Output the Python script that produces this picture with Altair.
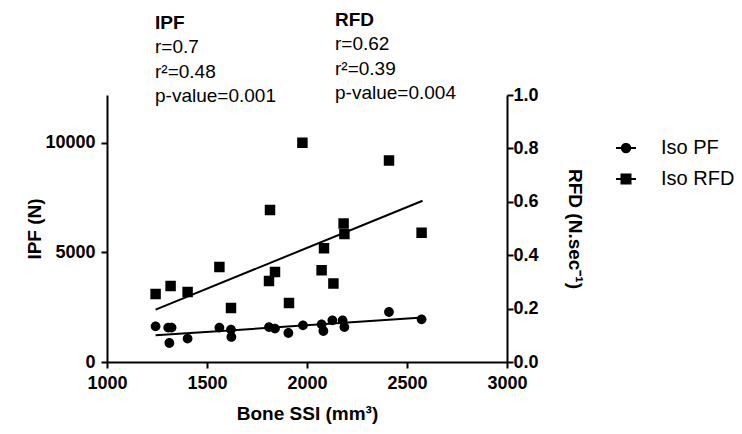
import altair as alt
import pandas as pd

# ---- data ----
ipf_ssi = [1243, 1306, 1323, 1312, 1403, 1562, 1620, 1622, 1810, 1840, 1907, 1980, 2073, 2082, 2127, 2178, 2187, 2410, 2573]
ipf_val = [1627, 1568, 1568, 866, 1067, 1568, 1477, 1140, 1595, 1522, 1322, 1673, 1718, 1413, 1900, 1900, 1595, 2279, 1946]

rfd_ssi = [1243, 1318, 1403, 1562, 1620, 1815, 1810, 1840, 1910, 1977, 2073, 2085, 2132, 2183, 2187, 2410, 2573]
rfd_val = [0.255, 0.285, 0.262, 0.356, 0.202, 0.569, 0.303, 0.337, 0.221, 0.821, 0.344, 0.426, 0.294, 0.519, 0.479, 0.755, 0.484]

ipf_fit_ssi = [1243, 2578]
ipf_fit_val = [1217, 2024]
rfd_fit_ssi = [1243, 2578]
rfd_fit_val = [0.196, 0.604]

series = ["Iso PF", "Iso RFD"]
x_ticks = [1000, 1500, 2000, 2500, 3000]
ipf_ticks = [0, 5000, 10000]
rfd_ticks = [0.0, 0.2, 0.4, 0.6, 0.8, 1.0]

ipf_title = "IPF"
ipf_stats = ["r=0.7", "r\u00b2=0.48", "p-value=0.001"]
rfd_title = "RFD"
rfd_stats = ["r=0.62", "r\u00b2=0.39", "p-value=0.004"]

FONT = "Liberation Sans"

# custom symbols: a horizontal line (only visible when stroked, i.e. in the legend) + marker
circle_path = "M-1,0H1M0.42,0A0.42,0.42,0,1,1,-0.42,0A0.42,0.42,0,1,1,0.42,0Z"
square_path = "M-1,0H1M-0.45,-0.45H0.45V0.45H-0.45Z"

ipf_df = pd.DataFrame({"ssi": ipf_ssi, "val": ipf_val, "series": series[0]})
rfd_df = pd.DataFrame({"ssi": rfd_ssi, "val": rfd_val, "series": series[1]})
ipf_fit = pd.DataFrame({"ssi": ipf_fit_ssi, "val": ipf_fit_val})
rfd_fit = pd.DataFrame({"ssi": rfd_fit_ssi, "val": rfd_fit_val})
legend_df = pd.DataFrame({"series": series})

shape_scale = alt.Scale(domain=series, range=[circle_path, square_path])

x_enc = alt.X("ssi:Q", scale=alt.Scale(domain=[1000, 3000], nice=False, zero=False),
              axis=alt.Axis(values=x_ticks, format="d", title="Bone SSI (mm\u00b3)",
                            labelPadding=6, titlePadding=12))

ipf_y_scale = alt.Scale(domain=[0, 12170], nice=False)
ipf_axis = alt.Axis(orient="left", values=ipf_ticks, format="d", title="IPF (N)",
                    labelPadding=6, titlePadding=0)
rfd_y_scale = alt.Scale(domain=[0, 1], nice=False)
rfd_axis = alt.Axis(orient="right", values=rfd_ticks, format=".1f",
                    title="RFD (N.sec\u207b\u00b9)", labelPadding=0, titlePadding=26)

ipf_pts = alt.Chart(ipf_df).mark_point(filled=True, color="black", opacity=1, size=540).encode(
    x=x_enc, y=alt.Y("val:Q", scale=ipf_y_scale, axis=ipf_axis),
    shape=alt.Shape("series:N", scale=shape_scale, legend=None))
ipf_line = alt.Chart(ipf_fit).mark_line(color="black", strokeWidth=2).encode(
    x="ssi:Q", y=alt.Y("val:Q", scale=ipf_y_scale, axis=ipf_axis))

rfd_pts = alt.Chart(rfd_df).mark_point(filled=True, color="black", opacity=1, size=540).encode(
    x=x_enc, y=alt.Y("val:Q", scale=rfd_y_scale, axis=rfd_axis),
    shape=alt.Shape("series:N", scale=shape_scale, legend=None))
rfd_line = alt.Chart(rfd_fit).mark_line(color="black", strokeWidth=2).encode(
    x="ssi:Q", y=alt.Y("val:Q", scale=rfd_y_scale, axis=rfd_axis))

# legend-only layer (no visible marks): stroked symbols draw the line part of the key
legend_layer = alt.Chart(legend_df).mark_point(
    filled=False, color="black", fill="black", stroke="black", strokeWidth=2, opacity=1, size=400
).encode(
    shape=alt.Shape("series:N", scale=shape_scale,
                    legend=alt.Legend(title=None, orient="none", legendX=508, legendY=42,
                                      symbolSize=400, symbolStrokeWidth=2,
                                      labelFont=FONT, labelFontSize=20, labelColor="black",
                                      labelOffset=24, rowPadding=10, padding=0))
).transform_filter("false")

ipf_layer = alt.layer(ipf_line, ipf_pts)
rfd_layer = alt.layer(rfd_line, rfd_pts)

one = pd.DataFrame({"k": [0]})


def text_block(title, lines, x, y0, step):
    parts = [alt.Chart(one).mark_text(align="left", baseline="alphabetic", font=FONT, fontSize=19,
                                      fontWeight="bold", color="black").encode(
        x=alt.value(x), y=alt.value(y0), text=alt.value(title))]
    for i, ln in enumerate(lines):
        parts.append(alt.Chart(one).mark_text(align="left", baseline="alphabetic", font=FONT,
                                              fontSize=19, color="black").encode(
            x=alt.value(x), y=alt.value(y0 + step * (i + 1)), text=alt.value(ln)))
    return parts


texts = text_block(ipf_title, ipf_stats, 48, -66, 24.3) + text_block(rfd_title, rfd_stats, 228, -69, 24.3)

chart = alt.layer(legend_layer, ipf_layer, rfd_layer, *texts).resolve_scale(y="independent").properties(
    width=400, height=267,
    background="white",
    autosize=alt.AutoSizeParams(type="none"),
    padding={"left": 99, "top": 87, "right": 227, "bottom": 64},
).configure_view(stroke=None).configure_axis(
    grid=False, domainColor="black", domainWidth=2, tickColor="black", tickWidth=2, tickSize=6,
    labelFont=FONT, labelFontSize=18, labelFontWeight="bold", labelColor="black",
    titleFont=FONT, titleFontSize=19, titleFontWeight="bold", titleColor="black",
    labelFlush=False, labelOverlap=False,
)

chart.save("out.html", embed_options={"renderer": "svg", "actions": False})
